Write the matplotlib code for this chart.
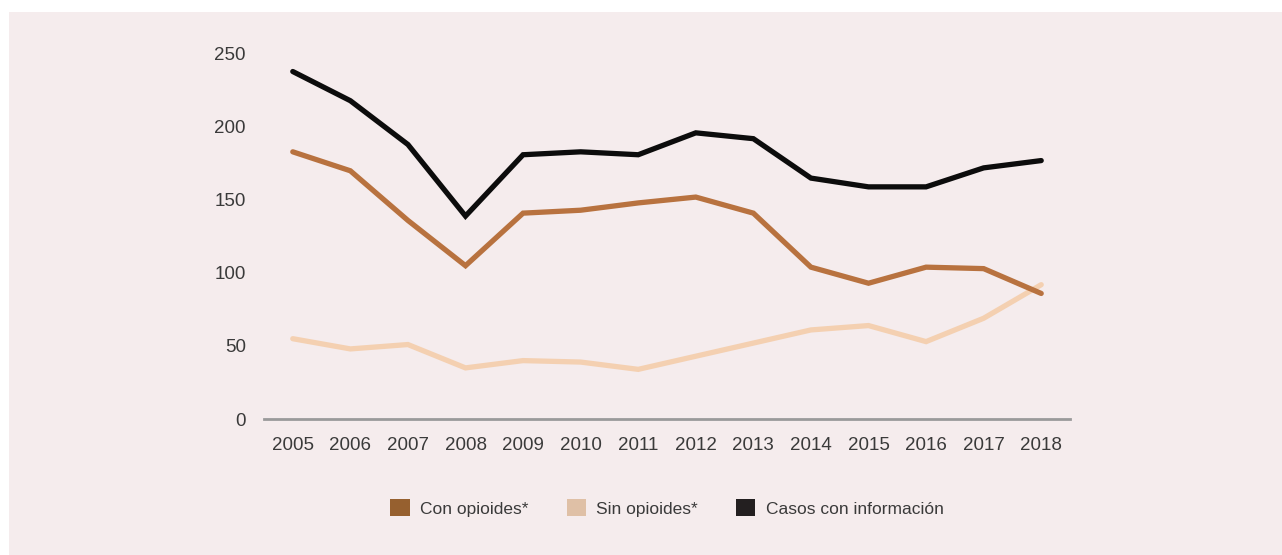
import matplotlib
matplotlib.use("Agg")
import matplotlib.pyplot as plt
from matplotlib.patches import Patch, Rectangle

years = [2005, 2006, 2007, 2008, 2009, 2010, 2011, 2012, 2013, 2014, 2015, 2016, 2017, 2018]
con_opioides = [183, 170, 136, 105, 141, 143, 148, 152, 141, 104, 93, 104, 103, 86]
sin_opioides = [55, 48, 51, 35, 40, 39, 34, 43, 52, 61, 64, 53, 69, 92]
casos_info = [238, 218, 188, 139, 181, 183, 181, 196, 192, 165, 159, 159, 172, 177]
yticks = [0, 50, 100, 150, 200, 250]
labels = ["Con opioides*", "Sin opioides*", "Casos con información"]

plt.rcParams['font.family'] = ['Liberation Sans', 'DejaVu Sans']
txt = '#3a3a3a'
bg = '#f5eced'

W, H = 1282, 555
fig = plt.figure(figsize=(W / 100, H / 100), dpi=100)
fig.patch.set_facecolor('white')
fig.patches.append(Rectangle((9 / W, 0), 1 - 9 / W, 1 - 12 / H, transform=fig.transFigure,
                             facecolor=bg, edgecolor='none', zorder=-5))

x0, x1 = 264, 1070
y0 = 419
ppu = 365 / 250
ytop = 255
ax = fig.add_axes([x0 / W, 1 - y0 / H, (x1 - x0) / W, ytop * ppu / H])
ax.set_zorder(2)
ax.set_facecolor('none')
ax.set_xlim(2004.5, 2018.5)
ax.set_ylim(0, ytop)

ax.plot(years, sin_opioides, color='#f4d0b1', lw=3.8, solid_capstyle='round', solid_joinstyle='miter')
ax.plot(years, con_opioides, color='#b8723f', lw=3.8, solid_capstyle='round', solid_joinstyle='miter')
ax.plot(years, casos_info, color='#0c0c0c', lw=3.8, solid_capstyle='round', solid_joinstyle='miter')

for s in ['top', 'right', 'left']:
    ax.spines[s].set_visible(False)
ax.spines['bottom'].set_color('#9a9a9a')
ax.spines['bottom'].set_linewidth(2)
ax.set_xticks(years)
ax.set_xticklabels([str(y) for y in years])
ax.set_yticks(yticks)
ax.tick_params(axis='both', length=0, labelsize=13.5, colors=txt)
ax.tick_params(axis='y', pad=13)
ax.tick_params(axis='x', pad=13)

handles = [Patch(facecolor='#96602f'), Patch(facecolor='#dfc0a6'), Patch(facecolor='#231f20')]
leg = fig.legend(handles, labels, loc='center', bbox_to_anchor=(667 / W, 1 - 508 / H), ncol=3,
                 frameon=False, fontsize=12.5, labelcolor=txt, handlelength=1.1, handleheight=1.1,
                 handletextpad=0.6, columnspacing=2.2)
leg.set_zorder(3)

fig.savefig('out.png', dpi=100)
